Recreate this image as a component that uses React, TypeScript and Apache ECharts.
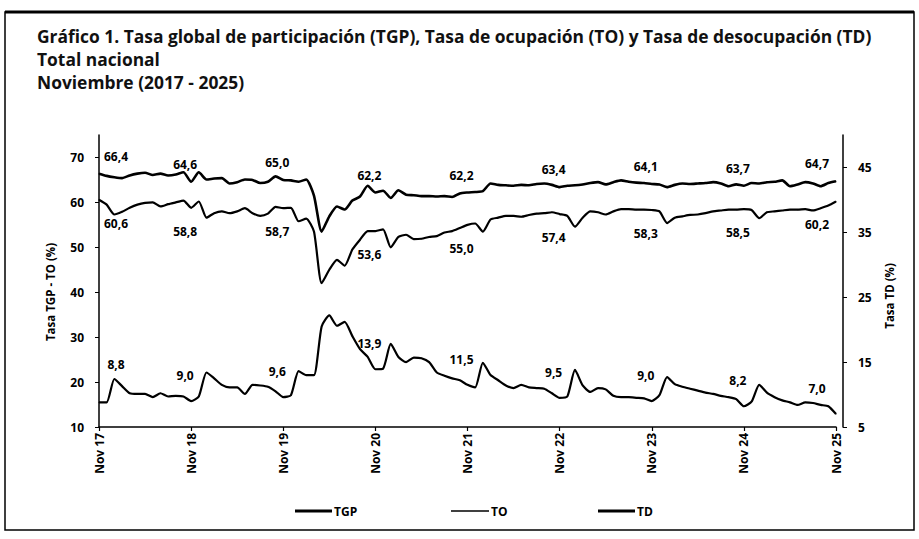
import { useEffect, useRef } from "react";
import * as echarts from "echarts";

const MONTHS = ["Nov", "Dic", "Ene", "Feb", "Mar", "Abr", "May", "Jun", "Jul", "Ago", "Sep", "Oct"];
const FIRST_YEAR = 17;
const N_POINTS = 97;
const categories: string[] = Array.from({ length: N_POINTS }, (_, i) =>
  `${MONTHS[i % 12]} ${FIRST_YEAR + Math.floor((i + 10) / 12)}`
);

const TITLE_LINES = [
  "Gráfico 1. Tasa global de participación (TGP), Tasa de ocupación (TO) y Tasa de desocupación (TD)",
  "Total nacional",
  "Noviembre (2017 - 2025)",
];

const SERIES_NAMES = ["TGP", "TO", "TD"];
const LEFT_AXIS_NAME = "Tasa TGP - TO (%)";
const RIGHT_AXIS_NAME = "Tasa TD (%)";
const LEFT_TICKS = [10, 20, 30, 40, 50, 60, 70];
const RIGHT_TICKS = [5, 15, 25, 35, 45];

// Nov 2017 ... Nov 2025, monthly
const tgp = [
  66.4, 65.9, 65.6, 65.4, 66.0, 66.4, 66.6, 66.1, 66.4, 66.0, 66.2, 66.7,
  64.6, 66.7, 65.1, 65.3, 65.4, 64.2, 64.5, 65.1, 65.0, 64.3, 64.6, 65.8,
  65.0, 64.9, 64.6, 65.1, 61.5, 53.5, 56.9, 59.1, 58.4, 60.4, 61.3, 63.7,
  62.2, 62.6, 61.0, 62.7, 61.7, 61.6, 61.4, 61.4, 61.3, 61.4, 61.2, 62.0,
  62.2, 62.3, 62.5, 64.2, 63.9, 63.8, 63.7, 63.9, 63.8, 64.1, 64.2, 63.9,
  63.4, 63.7, 63.8, 64.0, 64.3, 64.5, 64.0, 64.5, 64.9, 64.6, 64.4, 64.3,
  64.1, 64.0, 63.4, 63.9, 64.2, 64.1, 64.2, 64.3, 64.5, 64.2, 63.6, 64.0,
  63.7, 64.3, 64.2, 64.5, 64.6, 64.9, 63.6, 64.0, 64.5, 64.2, 63.6, 64.3,
  64.7,
];

const to = [
  60.6, 59.5, 57.3, 57.9, 58.8, 59.5, 59.9, 60.0, 59.1, 59.6, 60.0, 60.4,
  58.8, 60.2, 56.6, 57.6, 58.0, 57.6, 58.0, 58.7, 57.6, 57.0, 57.5, 59.0,
  58.7, 58.8, 55.8, 56.4, 53.5, 42.0, 45.0, 47.2, 45.9, 49.5, 51.7, 53.6,
  53.6, 54.0, 50.0, 52.3, 52.8, 51.8, 51.9, 52.3, 52.5, 53.3, 53.6, 54.3,
  55.0, 55.3, 53.5, 56.2, 56.6, 57.0, 57.0, 56.8, 57.2, 57.5, 57.6, 57.8,
  57.4, 57.0, 54.6, 56.6, 58.0, 57.8, 57.3, 58.0, 58.5, 58.5, 58.4, 58.4,
  58.3, 58.0, 55.4, 56.6, 56.9, 57.2, 57.3, 57.6, 58.0, 58.2, 58.4, 58.4,
  58.5, 58.3, 56.5, 57.8, 58.0, 58.2, 58.4, 58.4, 58.5, 58.2, 58.7, 59.3,
  60.2,
];

const td = [
  8.8, 8.8, 12.4, 11.3, 10.2, 10.1, 10.1, 9.6, 10.2, 9.7, 9.8, 9.7,
  9.0, 9.7, 13.4, 12.5, 11.5, 11.1, 11.1, 10.1, 11.5, 11.4, 11.2, 10.5,
  9.6, 9.9, 13.6, 13.0, 13.0, 20.5, 22.2, 20.6, 21.2, 19.0, 17.0, 15.8,
  13.9, 14.0, 17.8, 15.8, 15.0, 15.7, 15.6, 15.0, 13.4, 12.9, 12.5, 12.2,
  11.5, 11.1, 14.9, 13.0, 12.2, 11.4, 11.0, 11.5, 11.1, 11.0, 10.9, 10.2,
  9.5, 9.7, 13.8, 11.4, 10.4, 11.0, 10.8, 9.8, 9.6, 9.6, 9.5, 9.4,
  9.0, 9.9, 12.7, 11.6, 11.2, 10.9, 10.6, 10.3, 10.1, 9.8, 9.6, 9.3,
  8.2, 8.9, 11.5, 10.3, 9.6, 9.1, 8.8, 8.4, 8.8, 8.7, 8.4, 8.2,
  7.0,
];

const FONT = "'Open Sans', 'Noto Sans', sans-serif";

function fmt(v: number) {
  return v.toFixed(1).replace(".", ",");
}

function withLabels(values: number[], position: "top" | "bottom", distance: number, firstDy = 0) {
  const last = values.length - 1;
  return values.map((v, i) => {
    if (i % 12 !== 0) return v;
    const dx = i === 0 ? 17 : i === last ? -19 : -6;
    const dy = i === 0 ? firstDy : 0;
    return {
      value: v,
      label: {
        show: true,
        position,
        distance,
        offset: [dx, dy],
        formatter: (p: any) => fmt(p.value),
        color: "#000",
        fontFamily: FONT,
        fontWeight: "bold",
        fontSize: 12,
      },
    };
  });
}

export default function App() {
  const ref = useRef<HTMLDivElement>(null);

  useEffect(() => {
    if (!ref.current) return;
    const chart = echarts.init(ref.current, null, { renderer: "svg" });
    const lineCommon = {
      type: "line" as const,
      showSymbol: true,
      showAllSymbol: true,
      symbol: "circle",
      symbolSize: 1,
      silent: true,
      smooth: 0.2,
      label: { show: false },
    };
    chart.setOption({
      animation: false,
      backgroundColor: "#fff",
      textStyle: { fontFamily: FONT },
      title: {
        text: TITLE_LINES.join("\n"),
        left: 37,
        top: 24,
        padding: 0,
        textStyle: {
          fontFamily: FONT,
          fontWeight: "bold",
          fontSize: 17.4,
          lineHeight: 23,
          color: "#111",
        },
      },
      grid: { left: 99, right: 83, top: 135, bottom: 112, containLabel: false },
      xAxis: {
        type: "category",
        data: categories,
        boundaryGap: false,
        axisLine: { lineStyle: { color: "#000", width: 1.5 } },
        axisTick: { interval: 11, length: 4, lineStyle: { color: "#000", width: 1.2 } },
        axisLabel: {
          interval: 11,
          rotate: 90,
          margin: 6,
          color: "#000",
          fontFamily: FONT,
          fontWeight: "bold",
          fontSize: 12,
        },
        splitLine: { show: false },
      },
      yAxis: [
        {
          type: "value",
          min: 10,
          max: 75,
          interval: 10,
          position: "left",
          name: LEFT_AXIS_NAME,
          nameLocation: "middle",
          nameRotate: 90,
          nameGap: 43,
          nameTextStyle: { color: "#000", fontFamily: FONT, fontWeight: "bold", fontSize: 11.5, padding: [0, 0, 0, -22] },
          axisLine: { show: true, lineStyle: { color: "#000", width: 1.5 } },
          axisTick: { show: true, length: 4, customValues: LEFT_TICKS, lineStyle: { color: "#000" } },
          axisLabel: {
            customValues: LEFT_TICKS,
            margin: 15,
            color: "#000",
            fontFamily: FONT,
            fontWeight: "bold",
            fontSize: 12,
          },
          splitLine: { show: false },
        },
        {
          type: "value",
          min: 5,
          max: 50,
          interval: 5,
          position: "right",
          offset: 7,
          name: RIGHT_AXIS_NAME,
          nameLocation: "middle",
          nameRotate: 90,
          nameGap: 40,
          nameTextStyle: { color: "#000", fontFamily: FONT, fontWeight: "bold", fontSize: 11.5, padding: [0, 0, 0, -30] },
          axisLine: { show: true, lineStyle: { color: "#000", width: 1.5 } },
          axisTick: { show: true, length: 4, customValues: RIGHT_TICKS, lineStyle: { color: "#000" } },
          axisLabel: {
            customValues: RIGHT_TICKS,
            margin: 15,
            color: "#000",
            fontFamily: FONT,
            fontWeight: "bold",
            fontSize: 12,
          },
          splitLine: { show: false },
        },
      ],
      legend: [
        {
          data: [{ name: SERIES_NAMES[0], icon: "rect" }],
          left: 290,
          top: 500,
          itemWidth: 37,
          itemHeight: 3,
          selectedMode: false,
          textStyle: { color: "#000", fontFamily: FONT, fontWeight: "bold", fontSize: 12, padding: [0, 0, 0, -3] },
        },
        {
          data: [{ name: SERIES_NAMES[1], icon: "rect" }],
          left: 446,
          top: 500,
          itemWidth: 38,
          itemHeight: 1.5,
          selectedMode: false,
          textStyle: { color: "#000", fontFamily: FONT, fontWeight: "bold", fontSize: 12, padding: [0, 0, 0, -3] },
        },
        {
          data: [{ name: SERIES_NAMES[2], icon: "rect" }],
          left: 593,
          top: 500,
          itemWidth: 37,
          itemHeight: 3,
          selectedMode: false,
          textStyle: { color: "#000", fontFamily: FONT, fontWeight: "bold", fontSize: 12, padding: [0, 0, 0, -3] },
        },
      ],
      series: [
        {
          ...lineCommon,
          name: SERIES_NAMES[0],
          yAxisIndex: 0,
          data: withLabels(tgp, "top", 11),
          itemStyle: { color: "#000" },
          lineStyle: { color: "#000", width: 2.6, join: "round" },
        },
        {
          ...lineCommon,
          name: SERIES_NAMES[1],
          yAxisIndex: 0,
          data: withLabels(to, "bottom", 17),
          itemStyle: { color: "#000" },
          lineStyle: { color: "#000", width: 2.2, join: "round" },
        },
        {
          ...lineCommon,
          name: SERIES_NAMES[2],
          yAxisIndex: 1,
          data: withLabels(td, "top", 19, -12),
          itemStyle: { color: "#000" },
          lineStyle: { color: "#000", width: 2.2, join: "round" },
        },
      ],
      graphic: [
        {
          type: "rect",
          shape: { x: 5, y: 12, width: 909, height: 518 },
          style: { fill: "none", stroke: "#000", lineWidth: 1.5 },
          silent: true,
        },
        {
          type: "line",
          shape: { x1: 5, y1: 12, x2: 914, y2: 12 },
          style: { stroke: "#000", lineWidth: 3 },
          silent: true,
        },
      ],
    });
    return () => chart.dispose();
  }, []);

  return (
    <div
      ref={ref}
      style={{ position: "fixed", left: 0, top: 0, width: 919, height: 539, background: "#fff" }}
    />
  );
}
